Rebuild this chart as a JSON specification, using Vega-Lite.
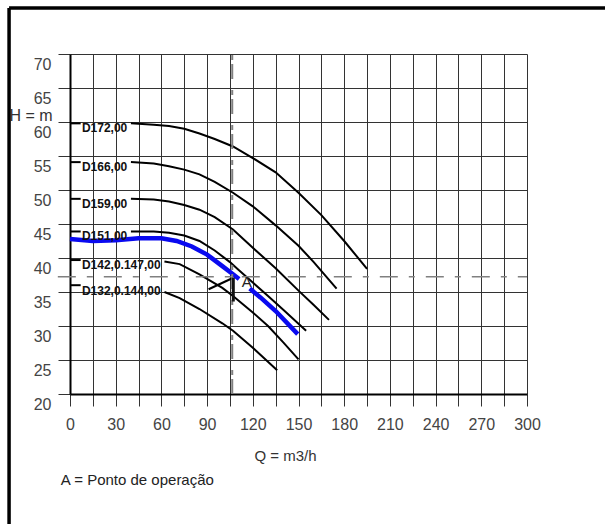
{
  "$schema": "https://vega.github.io/schema/vega-lite/v6.json",
  "width": 457,
  "height": 340,
  "autosize": {"type": "none"},
  "padding": {"left": 70, "top": 54, "right": 78, "bottom": 130},
  "background": "white",
  "config": {"view": {"stroke": null}, "font": "Liberation Sans"},
  "datasets": {
    "black": [
      {"s": "D172a", "q": 0, "h": 59.8}, {"s": "D172a", "q": 7, "h": 59.8},
      {"s": "D172b", "q": 40, "h": 59.8}, {"s": "D172b", "q": 55, "h": 59.6}, {"s": "D172b", "q": 65, "h": 59.4}, {"s": "D172b", "q": 75, "h": 59.0}, {"s": "D172b", "q": 85, "h": 58.3}, {"s": "D172b", "q": 95, "h": 57.5}, {"s": "D172b", "q": 107, "h": 56.4}, {"s": "D172b", "q": 120, "h": 54.7}, {"s": "D172b", "q": 135, "h": 52.6}, {"s": "D172b", "q": 150, "h": 49.6}, {"s": "D172b", "q": 165, "h": 46.3}, {"s": "D172b", "q": 180, "h": 42.5}, {"s": "D172b", "q": 195, "h": 38.4},
      {"s": "D166a", "q": 0, "h": 54.1}, {"s": "D166a", "q": 7, "h": 54.1},
      {"s": "D166b", "q": 40, "h": 54.1}, {"s": "D166b", "q": 55, "h": 53.9}, {"s": "D166b", "q": 65, "h": 53.5}, {"s": "D166b", "q": 75, "h": 53.0}, {"s": "D166b", "q": 85, "h": 52.3}, {"s": "D166b", "q": 95, "h": 51.2}, {"s": "D166b", "q": 107, "h": 49.6}, {"s": "D166b", "q": 120, "h": 47.6}, {"s": "D166b", "q": 135, "h": 44.8}, {"s": "D166b", "q": 150, "h": 41.8}, {"s": "D166b", "q": 160, "h": 39.4}, {"s": "D166b", "q": 175, "h": 35.5},
      {"s": "D159a", "q": 0, "h": 48.7}, {"s": "D159a", "q": 7, "h": 48.7},
      {"s": "D159b", "q": 40, "h": 48.7}, {"s": "D159b", "q": 55, "h": 48.6}, {"s": "D159b", "q": 65, "h": 48.3}, {"s": "D159b", "q": 75, "h": 47.8}, {"s": "D159b", "q": 85, "h": 47.1}, {"s": "D159b", "q": 95, "h": 46.0}, {"s": "D159b", "q": 107, "h": 44.2}, {"s": "D159b", "q": 120, "h": 41.5}, {"s": "D159b", "q": 135, "h": 38.5}, {"s": "D159b", "q": 150, "h": 35.2}, {"s": "D159b", "q": 160, "h": 33.1}, {"s": "D159b", "q": 170, "h": 30.9},
      {"s": "D151a", "q": 0, "h": 43.9}, {"s": "D151a", "q": 7, "h": 43.9},
      {"s": "D151b", "q": 40, "h": 43.9}, {"s": "D151b", "q": 55, "h": 43.9}, {"s": "D151b", "q": 65, "h": 43.7}, {"s": "D151b", "q": 75, "h": 43.3}, {"s": "D151b", "q": 85, "h": 42.5}, {"s": "D151b", "q": 95, "h": 41.1}, {"s": "D151b", "q": 105, "h": 39.4}, {"s": "D151b", "q": 110, "h": 38.4}, {"s": "D151b", "q": 120, "h": 36.4}, {"s": "D151b", "q": 130, "h": 34.4}, {"s": "D151b", "q": 140, "h": 32.4}, {"s": "D151b", "q": 155, "h": 29.3},
      {"s": "D142a", "q": 0, "h": 39.7}, {"s": "D142a", "q": 7, "h": 39.7},
      {"s": "D142b", "q": 62, "h": 39.5}, {"s": "D142b", "q": 72, "h": 39.1}, {"s": "D142b", "q": 85, "h": 37.6}, {"s": "D142b", "q": 100, "h": 35.6}, {"s": "D142b", "q": 107, "h": 34.4}, {"s": "D142b", "q": 120, "h": 32.0}, {"s": "D142b", "q": 130, "h": 30.0}, {"s": "D142b", "q": 140, "h": 27.6}, {"s": "D142b", "q": 150, "h": 25.1},
      {"s": "D132a", "q": 0, "h": 36.0}, {"s": "D132a", "q": 7, "h": 36.0},
      {"s": "D132b", "q": 62, "h": 35.0}, {"s": "D132b", "q": 72, "h": 34.1}, {"s": "D132b", "q": 85, "h": 32.5}, {"s": "D132b", "q": 100, "h": 30.4}, {"s": "D132b", "q": 107, "h": 29.3}, {"s": "D132b", "q": 120, "h": 26.8}, {"s": "D132b", "q": 136, "h": 23.5},
      {"s": "m1", "q": 91, "h": 35.4}, {"s": "m1", "q": 107.2, "h": 37.1}
    ],
    "blue": [
      {"s": "b1", "q": 0, "h": 42.8}, {"s": "b1", "q": 15, "h": 42.5}, {"s": "b1", "q": 30, "h": 42.6}, {"s": "b1", "q": 45, "h": 42.9}, {"s": "b1", "q": 60, "h": 42.9}, {"s": "b1", "q": 70, "h": 42.5}, {"s": "b1", "q": 80, "h": 41.7}, {"s": "b1", "q": 90, "h": 40.5}, {"s": "b1", "q": 100, "h": 38.8}, {"s": "b1", "q": 107, "h": 37.6}, {"s": "b1", "q": 111, "h": 36.9},
      {"s": "b2", "q": 118, "h": 35.5}, {"s": "b2", "q": 125, "h": 34.2}, {"s": "b2", "q": 135, "h": 32.2}, {"s": "b2", "q": 149.5, "h": 28.8}
    ],
    "labels": [
      {"t": "D172,00", "q": 7.8, "h": 59.1},
      {"t": "D166,00", "q": 7.8, "h": 53.4},
      {"t": "D159,00", "q": 7.8, "h": 48.0},
      {"t": "D151,00", "q": 7.8, "h": 43.3},
      {"t": "D142,0.147,00", "q": 7.8, "h": 38.9},
      {"t": "D132,0.144,00", "q": 7.8, "h": 35.15}
    ],
    "one": [{}]
  },
  "layer": [
    {
      "data": {"name": "black"},
      "mark": {"type": "line", "color": "#000000", "strokeWidth": 2},
      "encoding": {
        "x": {
          "field": "q", "type": "quantitative",
          "scale": {"domain": [0, 300], "nice": false, "zero": false},
          "axis": {
            "values": [0, 15, 30, 45, 60, 75, 90, 105, 120, 135, 150, 165, 180, 195, 210, 225, 240, 255, 270, 285, 300],
            "tickCount": 40,
            "labelExpr": "datum.value % 30 === 0 ? datum.label : ''",
            "labelFlush": false, "labelOverlap": false,
            "tickSize": 12, "tickColor": "#333333", "tickWidth": 1,
            "grid": true, "gridColor": "#333333", "gridWidth": 1, "gridOpacity": 1,
            "domainColor": "#000000", "domainWidth": 2,
            "labelFont": "Liberation Sans", "labelFontSize": 16, "labelColor": "#444444", "labelPadding": 10,
            "title": "Q = m3/h", "titleFont": "Liberation Sans", "titleFontWeight": "normal", "titleFontSize": 15, "titleColor": "#333333",
            "titleX": 215, "titleY": 61, "titleBaseline": "middle", "titleAlign": "center"
          }
        },
        "y": {
          "field": "h", "type": "quantitative",
          "scale": {"domain": [20, 70], "nice": false, "zero": false},
          "axis": {
            "values": [20, 25, 30, 35, 40, 45, 50, 55, 60, 65, 70],
            "tickCount": 40,
            "labelOverlap": false,
            "tickSize": 12, "tickColor": "#333333", "tickWidth": 1,
            "grid": true, "gridColor": "#333333", "gridWidth": 1, "gridOpacity": 1,
            "domainColor": "#000000", "domainWidth": 2,
            "labelFont": "Liberation Sans", "labelFontSize": 16, "labelColor": "#444444", "labelPadding": 7, "labelOffset": 10,
            "title": "H = m", "titleFont": "Liberation Sans", "titleFontWeight": "normal", "titleFontSize": 16, "titleColor": "#333333",
            "titleAngle": 0, "titleX": -18, "titleY": 61, "titleAlign": "right", "titleBaseline": "middle"
          }
        },
        "detail": {"field": "s"}
      }
    },
    {
      "data": {"name": "blue"},
      "mark": {"type": "line", "color": "#0a0af0", "strokeWidth": 4.5},
      "encoding": {
        "x": {"field": "q", "type": "quantitative"},
        "y": {"field": "h", "type": "quantitative"},
        "detail": {"field": "s"}
      }
    },
    {
      "data": {"name": "labels"},
      "mark": {"type": "text", "align": "left", "baseline": "middle", "fontSize": 12, "fontWeight": "bold", "font": "Liberation Sans", "color": "#111111"},
      "encoding": {
        "x": {"field": "q", "type": "quantitative"},
        "y": {"field": "h", "type": "quantitative"},
        "text": {"field": "t"}
      }
    },
    {
      "data": {"name": "one"},
      "mark": {"type": "rule", "color": "#808080", "strokeWidth": 1.5, "strokeDash": [18, 11, 6, 11]},
      "encoding": {
        "x": {"datum": -8, "type": "quantitative"}, "x2": {"datum": 300}, "y": {"datum": 37.25, "type": "quantitative"}
      }
    },
    {
      "data": {"name": "one"},
      "mark": {"type": "rule", "color": "#808080", "strokeWidth": 2, "strokeDash": [15, 4, 5, 11]},
      "encoding": {
        "x": {"datum": 106.5, "type": "quantitative"}, "y": {"datum": 20, "type": "quantitative"}, "y2": {"datum": 70}
      }
    },
    {
      "data": {"name": "one"},
      "mark": {"type": "rule", "color": "#111111", "strokeWidth": 3},
      "encoding": {
        "x": {"datum": 107.2, "type": "quantitative"}, "y": {"datum": 33.6, "type": "quantitative"}, "y2": {"datum": 37.1}
      }
    },
    {
      "data": {"name": "one"},
      "mark": {"type": "text", "fontSize": 15, "font": "Liberation Sans", "color": "#222222", "align": "center", "baseline": "middle"},
      "encoding": {
        "x": {"datum": 116, "type": "quantitative"}, "y": {"datum": 36.5, "type": "quantitative"}, "text": {"value": "A"}
      }
    },
    {
      "data": {"name": "one"},
      "mark": {"type": "text", "fontSize": 15, "font": "Liberation Sans", "color": "#222222", "align": "left", "baseline": "middle"},
      "encoding": {
        "x": {"datum": -6, "type": "quantitative"}, "y": {"datum": 7.35, "type": "quantitative"}, "text": {"value": "A = Ponto de operação"}
      }
    },
    {
      "data": {"name": "one"},
      "mark": {"type": "rule", "color": "#000000", "strokeWidth": 3.5},
      "encoding": {
        "x": {"datum": -40, "type": "quantitative"}, "y": {"datum": -5, "type": "quantitative"}, "y2": {"datum": 76.76}
      }
    },
    {
      "data": {"name": "one"},
      "mark": {"type": "rule", "color": "#000000", "strokeWidth": 3.5},
      "encoding": {
        "x": {"datum": -40, "type": "quantitative"}, "x2": {"datum": 360}, "y": {"datum": 76.76, "type": "quantitative"}
      }
    }
  ]
}
